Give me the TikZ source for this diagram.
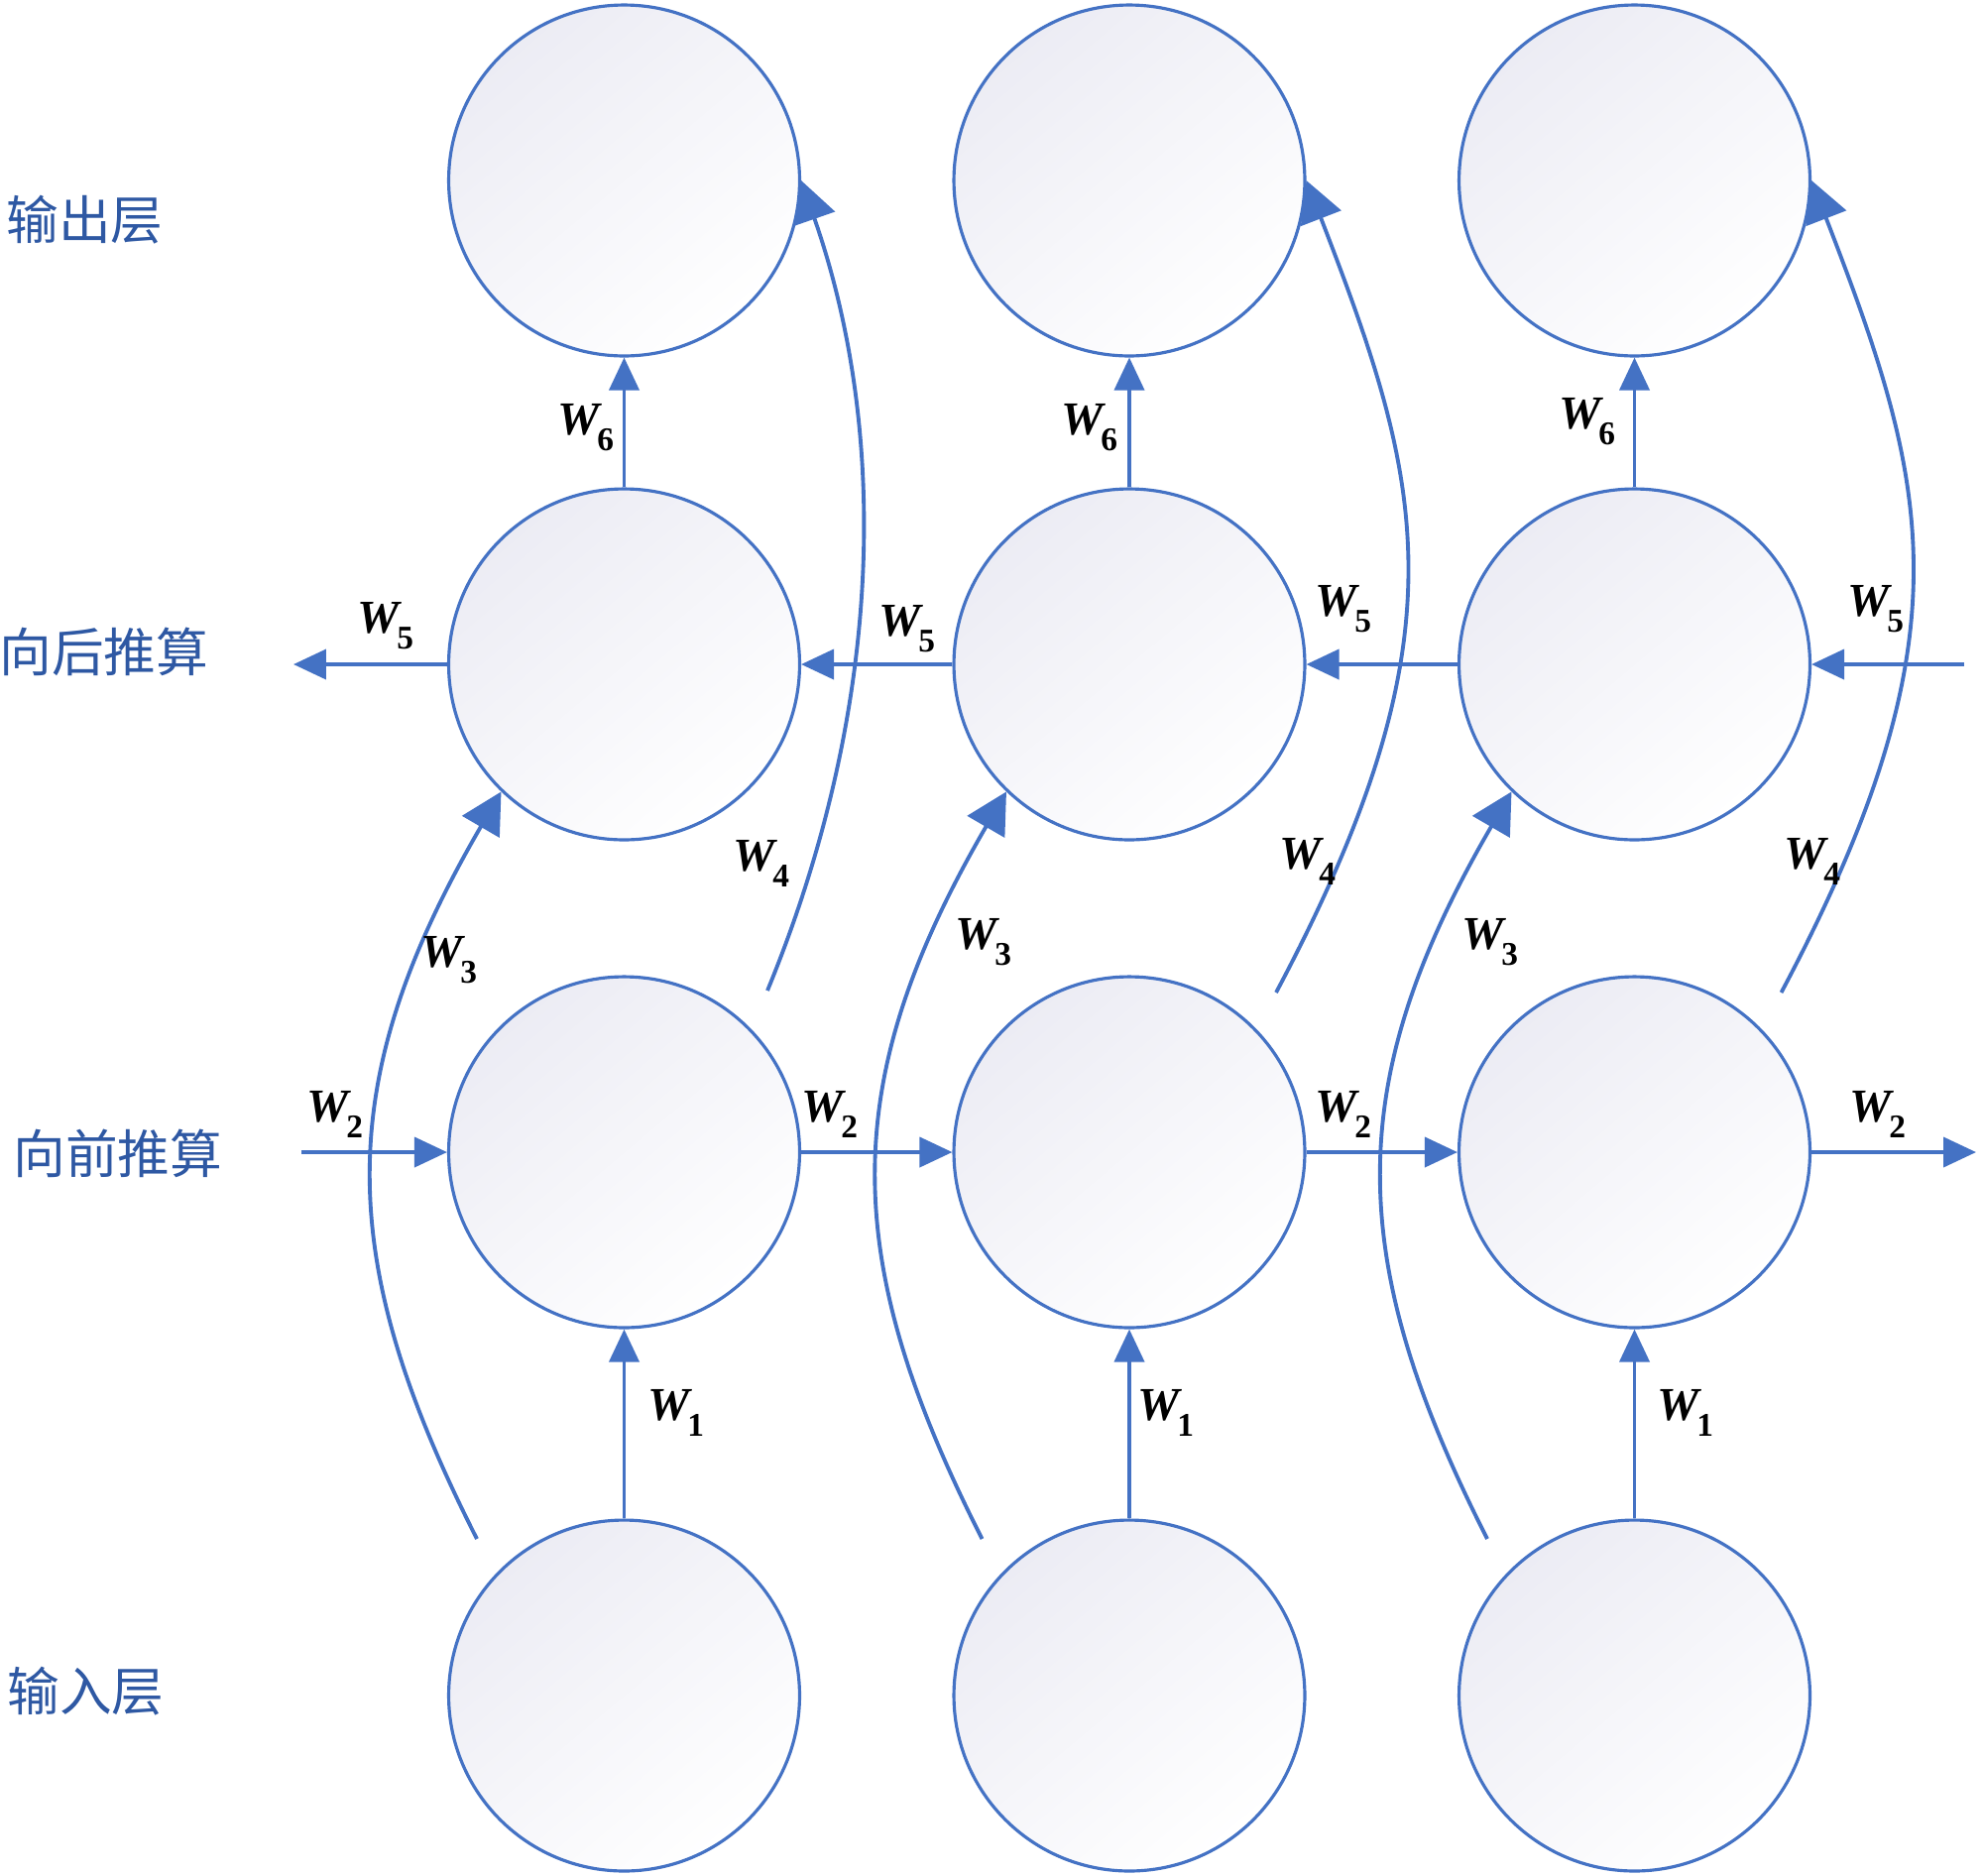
\documentclass[tikz,border=0pt]{standalone}
\usepackage{fontspec}
\setmainfont{Liberation Serif}
\newfontfamily\cjk{Noto Sans CJK SC}
\usetikzlibrary{arrows.meta}
\definecolor{lineblue}{RGB}{68,114,196}
\definecolor{textblue}{RGB}{46,88,163}
\definecolor{shadetop}{RGB}{236,236,244}
\newcommand{\wlab}[1]{{\fontsize{27pt}{27pt}\selectfont\bfseries\itshape W}\kern-1.5pt\raisebox{-9.5pt}{\fontsize{19pt}{19pt}\selectfont\bfseries #1}}
\begin{document}
\begin{tikzpicture}[x=0.02cm,y=-0.02cm,
  neuron/.style={circle, draw=lineblue, line width=1.8pt, minimum size=7.08cm, inner sep=0pt,
    top color=shadetop, bottom color=white, shading angle=40},
  conn/.style={draw=lineblue, line width=2.2pt, -{Triangle[length=0.66cm,width=0.6cm]}},
  curv/.style={draw=lineblue, line width=2.2pt, -{Triangle[length=0.82cm,width=0.86cm]}},
  wl/.style={inner sep=0pt, text=black},
  layer/.style={anchor=west, inner sep=0pt, text=textblue, font=\cjk\fontsize{30pt}{30pt}\selectfont}]
\useasboundingbox (0,0) rectangle (2000,1891);

% layer labels
\node[layer] (L1) at (6,222) {输出层};
\node[layer] (L2) at (-1,657) {向后推算};
\node[layer] (L3) at (13,1163) {向前推算};
\node[layer] (L4) at (7,1706) {输入层};

% neurons
\foreach \i/\x in {1/629.5,2/1139,3/1648.5} {
  \node[neuron] (a\i) at (\x,182) {};
  \node[neuron] (b\i) at (\x,670) {};
  \node[neuron] (f\i) at (\x,1162) {};
  \node[neuron] (n\i) at (\x,1710) {};
}

% W1 and W6
\foreach \i in {1,2,3} {
  \draw[conn] (n\i.north) -- (f\i.south);
  \draw[conn] (b\i.north) -- (a\i.south);
}

% W2 forward
\coordinate (fin) at (304,1162);
\coordinate (fout) at (1993,1162);
\draw[conn] (fin) -- (f1.west);
\draw[conn] (f1.east) -- (f2.west);
\draw[conn] (f2.east) -- (f3.west);
\draw[conn] (f3.east) -- (fout);

% W5 backward
\coordinate (bout) at (296,670);
\coordinate (bin) at (1981,670);
\draw[conn] (b1.west) -- (bout);
\draw[conn] (b2.west) -- (b1.east);
\draw[conn] (b3.west) -- (b2.east);
\draw[conn] (bin) -- (b3.east);

% W3 curves
\foreach \i/\x in {1/629.5,2/1139,3/1648.5} {
  \coordinate (s3\i) at (\x-148.5,1552);
  \draw[curv] (s3\i) .. controls (\x-291.5,1270) and (\x-295.5,1093) .. (b\i.226);
}

% W4 curves
\coordinate (s41) at (774,999);
\draw[curv] (s41) .. controls (890,717) and (898,440) .. (a1.east);
\foreach \i/\x in {2/1139,3/1648.5} {
  \coordinate (s4\i) at (\x+148,1001);
  \draw[curv] (s4\i) .. controls (\x+340.5,639) and (\x+296.5,487) .. (a\i.east);
}

% weight labels
\node[wl] (w61) at (591,431) {\wlab{6}};
\node[wl] (w62) at (1099,431) {\wlab{6}};
\node[wl] (w63) at (1601,425) {\wlab{6}};
\node[wl] (w51) at (389,631) {\wlab{5}};
\node[wl] (w52) at (915,634) {\wlab{5}};
\node[wl] (w53) at (1355,614) {\wlab{5}};
\node[wl] (w54) at (1892,614) {\wlab{5}};
\node[wl] (w41) at (768,871) {\wlab{4}};
\node[wl] (w42) at (1319,869) {\wlab{4}};
\node[wl] (w43) at (1828,869) {\wlab{4}};
\node[wl] (w31) at (453,968) {\wlab{3}};
\node[wl] (w32) at (992,950) {\wlab{3}};
\node[wl] (w33) at (1503,950) {\wlab{3}};
\node[wl] (w21) at (338,1124) {\wlab{2}};
\node[wl] (w22) at (837,1124) {\wlab{2}};
\node[wl] (w23) at (1355,1124) {\wlab{2}};
\node[wl] (w24) at (1894,1124) {\wlab{2}};
\node[wl] (w11) at (682,1425) {\wlab{1}};
\node[wl] (w12) at (1176,1425) {\wlab{1}};
\node[wl] (w13) at (1700,1425) {\wlab{1}};
\end{tikzpicture}
\end{document}
